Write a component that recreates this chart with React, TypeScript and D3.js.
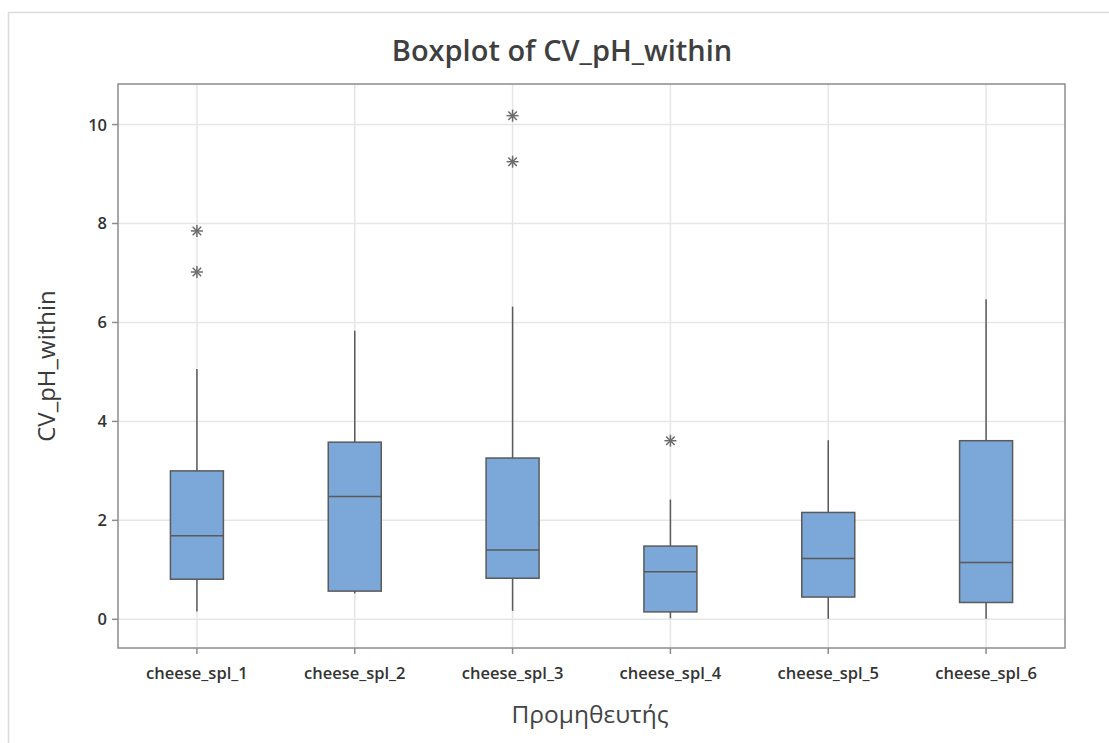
import React from 'react';
import * as d3 from 'd3';

const WIDTH = 1109;
const HEIGHT = 743;

const categories = ['cheese_spl_1', 'cheese_spl_2', 'cheese_spl_3', 'cheese_spl_4', 'cheese_spl_5', 'cheese_spl_6'];
const whiskerLow = [0.16, 0.52, 0.17, 0.02, 0.01, 0.01];
const q1 = [0.81, 0.57, 0.83, 0.15, 0.45, 0.34];
const median = [1.69, 2.48, 1.40, 0.96, 1.23, 1.15];
const q3 = [3.00, 3.58, 3.26, 1.48, 2.16, 3.61];
const whiskerHigh = [5.06, 5.83, 6.32, 2.42, 3.62, 6.47];
const outliers = [[7.85, 7.02], [], [10.18, 9.25], [3.61], [], []];
const yTicks = [0, 2, 4, 6, 8, 10];

const FONT = "'Open Sans', 'Noto Sans', sans-serif";
const BOX_FILL = '#7ba7d9';
const BOX_STROKE = '#5a5a5a';
const GRID = '#e6e6e6';

const margin = { top: 84, right: 44, bottom: 95, left: 118 };

const App = () => {
  const innerW = WIDTH - margin.left - margin.right;
  const innerH = HEIGHT - margin.top - margin.bottom;

  const x = d3.scaleBand<string>().domain(categories).range([0, innerW]).padding(0);
  const y = d3.scaleLinear().domain([-0.58, 10.82]).range([innerH, 0]);
  const boxW = 53;

  const data = categories.map((c, i) => ({
    c,
    lo: whiskerLow[i],
    q1: q1[i],
    med: median[i],
    q3: q3[i],
    hi: whiskerHigh[i],
    out: outliers[i],
  }));

  // Minitab-style asterisk for outliers
  const star = (cx: number, cy: number, key: string) => {
    const r = 6;
    const dx = r * Math.cos(Math.PI / 4);
    return (
      <g key={key} stroke="#6b6b6b" strokeWidth={1.5}>
        <line x1={cx - r} y1={cy} x2={cx + r} y2={cy} />
        <line x1={cx} y1={cy - r} x2={cx} y2={cy + r} />
        <line x1={cx - dx} y1={cy - dx} x2={cx + dx} y2={cy + dx} />
        <line x1={cx - dx} y1={cy + dx} x2={cx + dx} y2={cy - dx} />
      </g>
    );
  };

  return (
    <svg
      width={WIDTH}
      height={HEIGHT}
      style={{ position: 'absolute', left: 0, top: 0, background: '#fff' }}
    >
      {/* outer frame */}
      <rect x={8.5} y={12.5} width={WIDTH} height={HEIGHT} fill="#fff" stroke="#dcdcdc" strokeWidth={1.5} />

      <text x={562} y={61} textAnchor="middle" fontFamily={FONT} fontSize={29} fontWeight={600} fill="#3f3f3f">
        Boxplot of CV_pH_within
      </text>

      <g transform={`translate(${margin.left},${margin.top})`}>
        {yTicks.map((t) => (
          <line key={`gy${t}`} x1={0} x2={innerW} y1={y(t)} y2={y(t)} stroke={GRID} strokeWidth={1.5} />
        ))}
        {categories.map((c) => (
          <line key={`gx${c}`} x1={x(c)! + x.bandwidth() / 2} x2={x(c)! + x.bandwidth() / 2} y1={0} y2={innerH} stroke={GRID} strokeWidth={1.5} />
        ))}

        {data.map((d) => {
          const cx = x(d.c)! + x.bandwidth() / 2;
          return (
            <g key={d.c}>
              <line x1={cx} x2={cx} y1={y(d.hi)} y2={y(d.q3)} stroke={BOX_STROKE} strokeWidth={1.5} />
              <line x1={cx} x2={cx} y1={y(d.q1)} y2={y(d.lo)} stroke={BOX_STROKE} strokeWidth={1.5} />
              <rect
                x={cx - boxW / 2}
                y={y(d.q3)}
                width={boxW}
                height={y(d.q1) - y(d.q3)}
                fill={BOX_FILL}
                stroke={BOX_STROKE}
                strokeWidth={1.5}
              />
              <line x1={cx - boxW / 2} x2={cx + boxW / 2} y1={y(d.med)} y2={y(d.med)} stroke={BOX_STROKE} strokeWidth={1.5} />
              {d.out.map((v, j) => star(cx, y(v), `${d.c}-o${j}`))}
            </g>
          );
        })}

        <rect x={0} y={0} width={innerW} height={innerH} fill="none" stroke="#8c8c8c" strokeWidth={1.5} />

        {yTicks.map((t) => (
          <g key={`yt${t}`} transform={`translate(0,${y(t)})`}>
            <line x1={-6} x2={0} stroke="#8c8c8c" strokeWidth={1.5} />
            <text x={-11} dy="0.36em" textAnchor="end" fontFamily={FONT} fontSize={16.5} fontWeight={600} fill="#333">
              {t}
            </text>
          </g>
        ))}

        {categories.map((c) => {
          const cx = x(c)! + x.bandwidth() / 2;
          return (
            <g key={`xt${c}`} transform={`translate(${cx},${innerH})`}>
              <line y1={0} y2={6} stroke="#8c8c8c" strokeWidth={1.5} />
              <text y={31} textAnchor="middle" fontFamily={FONT} fontSize={16.5} fontWeight={600} fill="#333">
                {c}
              </text>
            </g>
          );
        })}
      </g>

      <text x={590} y={723} textAnchor="middle" fontFamily={FONT} fontSize={24.5} fill="#444">
        Προμηθευτής
      </text>
      <text
        transform="translate(55,366) rotate(-90)"
        textAnchor="middle"
        fontFamily={FONT}
        fontSize={24}
        fill="#3a3a3a"
      >
        CV_pH_within
      </text>
    </svg>
  );
};

export default App;
